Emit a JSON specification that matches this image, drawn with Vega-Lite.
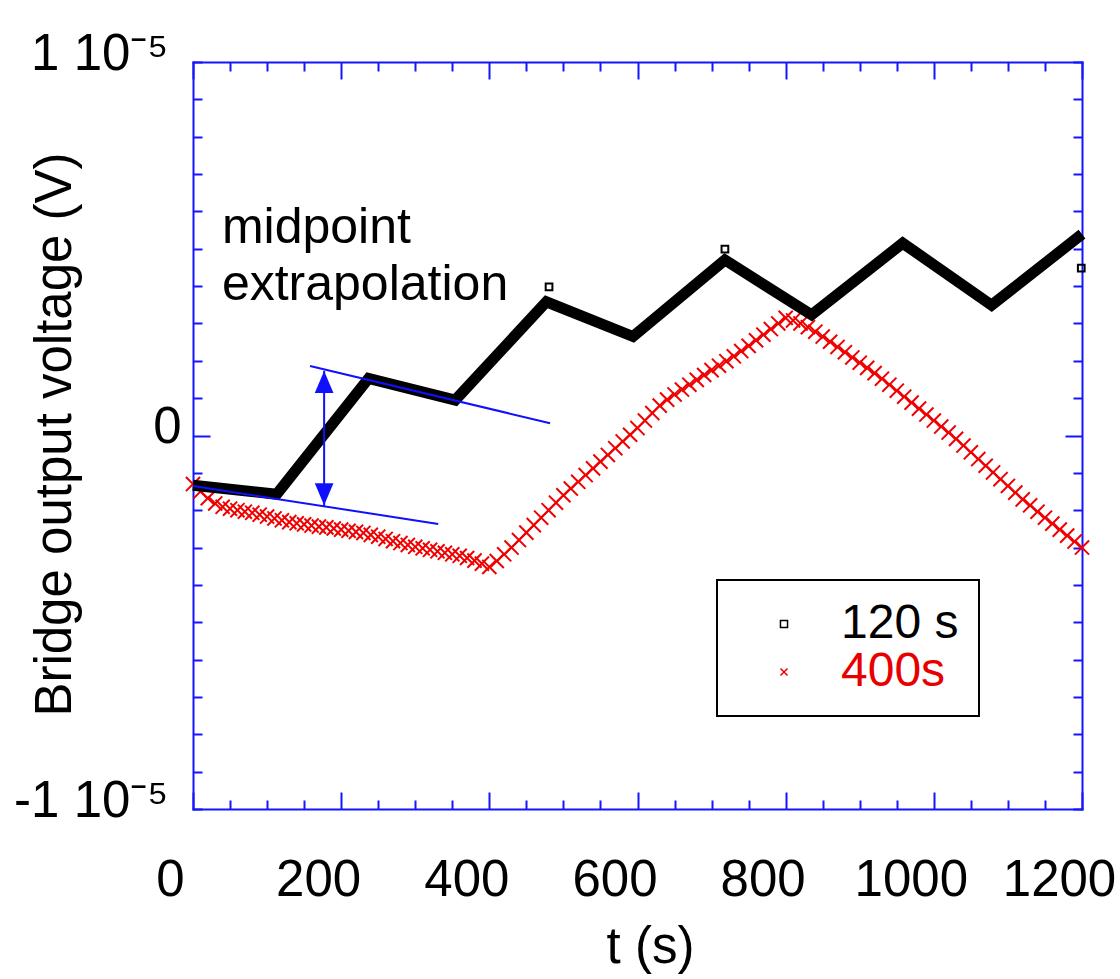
{
  "$schema": "https://vega.github.io/schema/vega-lite/v6.json",
  "width": 889,
  "height": 747,
  "autosize": "none",
  "padding": {"left": 193, "top": 62, "right": 38, "bottom": 170},
  "background": "white",
  "config": {
    "view": {"stroke": null},
    "font": "Liberation Sans",
    "axis": {
      "domainColor": "#1414ff", "domainWidth": 2, "domainCap": "square",
      "tickColor": "#1414ff", "tickWidth": 2, "grid": false,
      "labelFont": "Liberation Sans", "labelFontSize": 51, "labelColor": "#000000",
      "titleFont": "Liberation Sans", "titleFontSize": 51, "titleFontWeight": "normal", "titleColor": "#000000",
      "labelOverlap": false, "labelFlush": false, "labelBound": false
    },
    "legend": {"strokeWidth": 2, "cornerRadius": 0}
  },
  "datasets": {
    "pts": [
      {"t":0,"v":-1.30e-6,"series":"400s"},{"t":10,"v":-1.50e-6,"series":"400s"},{"t":20,"v":-1.68e-6,"series":"400s"},{"t":30,"v":-1.82e-6,"series":"400s"},{"t":40,"v":-1.91e-6,"series":"400s"},
      {"t":50,"v":-1.96e-6,"series":"400s"},{"t":60,"v":-2.00e-6,"series":"400s"},{"t":70,"v":-2.04e-6,"series":"400s"},{"t":80,"v":-2.07e-6,"series":"400s"},{"t":90,"v":-2.12e-6,"series":"400s"},
      {"t":100,"v":-2.17e-6,"series":"400s"},{"t":110,"v":-2.22e-6,"series":"400s"},{"t":120,"v":-2.27e-6,"series":"400s"},{"t":130,"v":-2.32e-6,"series":"400s"},{"t":140,"v":-2.35e-6,"series":"400s"},
      {"t":150,"v":-2.38e-6,"series":"400s"},{"t":160,"v":-2.41e-6,"series":"400s"},{"t":170,"v":-2.44e-6,"series":"400s"},{"t":180,"v":-2.46e-6,"series":"400s"},{"t":190,"v":-2.49e-6,"series":"400s"},
      {"t":200,"v":-2.52e-6,"series":"400s"},{"t":210,"v":-2.55e-6,"series":"400s"},{"t":220,"v":-2.58e-6,"series":"400s"},{"t":230,"v":-2.61e-6,"series":"400s"},{"t":240,"v":-2.66e-6,"series":"400s"},
      {"t":250,"v":-2.71e-6,"series":"400s"},{"t":260,"v":-2.77e-6,"series":"400s"},{"t":270,"v":-2.83e-6,"series":"400s"},{"t":280,"v":-2.88e-6,"series":"400s"},{"t":290,"v":-2.93e-6,"series":"400s"},
      {"t":300,"v":-2.98e-6,"series":"400s"},{"t":310,"v":-3.02e-6,"series":"400s"},{"t":320,"v":-3.06e-6,"series":"400s"},{"t":330,"v":-3.10e-6,"series":"400s"},{"t":340,"v":-3.14e-6,"series":"400s"},
      {"t":350,"v":-3.18e-6,"series":"400s"},{"t":360,"v":-3.22e-6,"series":"400s"},{"t":370,"v":-3.28e-6,"series":"400s"},{"t":380,"v":-3.35e-6,"series":"400s"},{"t":390,"v":-3.43e-6,"series":"400s"},
      {"t":400,"v":-3.52e-6,"series":"400s"},{"t":410,"v":-3.36e-6,"series":"400s"},{"t":420,"v":-3.18e-6,"series":"400s"},{"t":430,"v":-3.00e-6,"series":"400s"},{"t":440,"v":-2.80e-6,"series":"400s"},
      {"t":450,"v":-2.60e-6,"series":"400s"},{"t":460,"v":-2.40e-6,"series":"400s"},{"t":470,"v":-2.20e-6,"series":"400s"},{"t":480,"v":-2.00e-6,"series":"400s"},{"t":490,"v":-1.80e-6,"series":"400s"},
      {"t":500,"v":-1.60e-6,"series":"400s"},{"t":510,"v":-1.42e-6,"series":"400s"},{"t":520,"v":-1.24e-6,"series":"400s"},{"t":530,"v":-1.06e-6,"series":"400s"},{"t":540,"v":-0.88e-6,"series":"400s"},
      {"t":550,"v":-0.70e-6,"series":"400s"},{"t":560,"v":-0.52e-6,"series":"400s"},{"t":570,"v":-0.34e-6,"series":"400s"},{"t":580,"v":-0.16e-6,"series":"400s"},{"t":590,"v":0.02e-6,"series":"400s"},
      {"t":600,"v":0.20e-6,"series":"400s"},{"t":610,"v":0.40e-6,"series":"400s"},{"t":620,"v":0.60e-6,"series":"400s"},{"t":630,"v":0.80e-6,"series":"400s"},{"t":640,"v":0.96e-6,"series":"400s"},
      {"t":650,"v":1.10e-6,"series":"400s"},{"t":660,"v":1.23e-6,"series":"400s"},{"t":670,"v":1.36e-6,"series":"400s"},{"t":680,"v":1.49e-6,"series":"400s"},{"t":690,"v":1.62e-6,"series":"400s"},
      {"t":700,"v":1.75e-6,"series":"400s"},{"t":710,"v":1.87e-6,"series":"400s"},{"t":720,"v":1.99e-6,"series":"400s"},{"t":730,"v":2.12e-6,"series":"400s"},{"t":740,"v":2.26e-6,"series":"400s"},
      {"t":750,"v":2.40e-6,"series":"400s"},{"t":760,"v":2.55e-6,"series":"400s"},{"t":770,"v":2.70e-6,"series":"400s"},{"t":780,"v":2.85e-6,"series":"400s"},{"t":790,"v":3.00e-6,"series":"400s"},
      {"t":800,"v":3.15e-6,"series":"400s"},{"t":810,"v":3.08e-6,"series":"400s"},{"t":820,"v":3.00e-6,"series":"400s"},{"t":830,"v":2.90e-6,"series":"400s"},{"t":840,"v":2.78e-6,"series":"400s"},
      {"t":850,"v":2.65e-6,"series":"400s"},{"t":860,"v":2.51e-6,"series":"400s"},{"t":870,"v":2.37e-6,"series":"400s"},{"t":880,"v":2.23e-6,"series":"400s"},{"t":890,"v":2.09e-6,"series":"400s"},
      {"t":900,"v":1.95e-6,"series":"400s"},{"t":910,"v":1.81e-6,"series":"400s"},{"t":920,"v":1.67e-6,"series":"400s"},{"t":930,"v":1.52e-6,"series":"400s"},{"t":940,"v":1.36e-6,"series":"400s"},
      {"t":950,"v":1.20e-6,"series":"400s"},{"t":960,"v":1.04e-6,"series":"400s"},{"t":970,"v":0.88e-6,"series":"400s"},{"t":980,"v":0.72e-6,"series":"400s"},{"t":990,"v":0.56e-6,"series":"400s"},
      {"t":1000,"v":0.40e-6,"series":"400s"},{"t":1010,"v":0.24e-6,"series":"400s"},{"t":1020,"v":0.08e-6,"series":"400s"},{"t":1030,"v":-0.09e-6,"series":"400s"},{"t":1040,"v":-0.27e-6,"series":"400s"},
      {"t":1050,"v":-0.45e-6,"series":"400s"},{"t":1060,"v":-0.63e-6,"series":"400s"},{"t":1070,"v":-0.81e-6,"series":"400s"},{"t":1080,"v":-0.99e-6,"series":"400s"},{"t":1090,"v":-1.17e-6,"series":"400s"},
      {"t":1100,"v":-1.35e-6,"series":"400s"},{"t":1110,"v":-1.53e-6,"series":"400s"},{"t":1120,"v":-1.71e-6,"series":"400s"},{"t":1130,"v":-1.87e-6,"series":"400s"},{"t":1140,"v":-2.04e-6,"series":"400s"},
      {"t":1150,"v":-2.20e-6,"series":"400s"},{"t":1160,"v":-2.36e-6,"series":"400s"},{"t":1170,"v":-2.52e-6,"series":"400s"},{"t":1180,"v":-2.68e-6,"series":"400s"},{"t":1190,"v":-2.84e-6,"series":"400s"},
      {"t":1200,"v":-3.00e-6,"series":"400s"},
      {"t":480.6,"v":3.98e-6,"series":"120 s"},{"t":718,"v":4.99e-6,"series":"120 s"},{"t":1199,"v":4.48e-6,"series":"120 s"}
    ],
    "blk": [
      {"t":0,"v":-1.33e-6},{"t":113,"v":-1.57e-6},{"t":237,"v":1.53e-6},{"t":354,"v":0.95e-6},{"t":477,"v":3.58e-6},
      {"t":594,"v":2.65e-6},{"t":718,"v":4.70e-6},{"t":835,"v":3.23e-6},{"t":958,"v":5.15e-6},{"t":1078,"v":3.49e-6},{"t":1200,"v":5.39e-6}
    ],
    "fits": [
      {"t":158,"v":1.86e-6,"g":"upper"},{"t":482,"v":0.33e-6,"g":"upper"},
      {"t":0,"v":-1.35e-6,"g":"lower"},{"t":331,"v":-2.37e-6,"g":"lower"}
    ],
    "arrow": [{"t":177,"v":1.73e-6,"v2":-1.91e-6}],
    "heads": [{"t":177,"v":1.43e-6,"dir":"up"},{"t":177,"v":-1.57e-6,"dir":"down"}],
    "notes": [{"t":39,"v":5.15e-6,"text":"midpoint"},{"t":39,"v":3.63e-6,"text":"extrapolation"}]
  },
  "layer": [
    {
      "data": {"name": "pts"},
      "mark": {"type": "point", "filled": false, "strokeWidth": 2, "opacity": 1},
      "encoding": {
        "x": {"field": "t", "type": "quantitative", "scale": {"domain": [0, 1200], "nice": false, "zero": false},
          "axis": {"orient": "bottom", "values": [0,50,100,150,200,250,300,350,400,450,500,550,600,650,700,750,800,850,900,950,1000,1050,1100,1150,1200],
            "format": "d", "labelExpr": "datum.value % 200 == 0 ? datum.label : ''",
            "tickSize": {"condition": {"test": "datum.value % 200 == 0", "value": -17}, "value": -9},
            "labelPadding": 103, "labelOffset": -23, "labelBaseline": "alphabetic", "labelAlign": "center",
            "title": "t (s)", "titleX": 457, "titleY": 153, "titleAlign": "center", "titleBaseline": "alphabetic"}},
        "y": {"field": "v", "type": "quantitative", "scale": {"domain": [-1e-5, 1e-5], "nice": false, "zero": false},
          "axis": {"orient": "left",
            "values": [-1e-5,-9e-6,-8e-6,-7e-6,-6e-6,-5e-6,-4e-6,-3e-6,-2e-6,-1e-6,0,1e-6,2e-6,3e-6,4e-6,5e-6,6e-6,7e-6,8e-6,9e-6,1e-5],
            "labelExpr": "abs(datum.value) < 1e-9 ? '0' : (datum.value > 9.5e-6 ? '1 10\u207b\u2075' : (datum.value < -9.5e-6 ? '-1 10\u207b\u2075' : ''))",
            "tickSize": {"condition": {"test": "abs(datum.value) < 1e-9", "value": -17}, "value": -9},
            "labelPadding": {"condition": {"test": "abs(datum.value) < 1e-9", "value": 29}, "value": 34},
            "labelOffset": 7, "labelBaseline": "alphabetic", "labelAlign": "right",
            "title": "Bridge output voltage (V)", "titleX": -123, "titleY": 372, "titleAngle": -90, "titleAlign": "center", "titleBaseline": "alphabetic"}},
        "color": {"field": "series", "type": "nominal", "scale": {"domain": ["120 s", "400s"], "range": ["#000000", "#f00000"]},
          "legend": {"orient": "none", "legendX": 524, "legendY": 518, "title": null, "padding": 20, "strokeColor": "#000000", "fillColor": "#ffffff",
            "labelFontSize": 48, "labelFont": "Liberation Sans", "labelColor": {"expr": "datum.label == '400s' ? '#e80000' : '#000000'"},
            "symbolSize": 50, "symbolStrokeWidth": 1.5, "symbolOffset": 23, "labelOffset": 33, "rowPadding": -3, "labelBaseline": "middle"}},
        "shape": {"field": "series", "type": "nominal", "scale": {"domain": ["120 s", "400s"], "range": ["square", "M-1,-1L1,1M-1,1L1,-1"]},
          "legend": {"orient": "none", "legendX": 524, "legendY": 518, "title": null, "padding": 20, "strokeColor": "#000000", "fillColor": "#ffffff",
            "labelFontSize": 48, "labelFont": "Liberation Sans", "labelColor": {"expr": "datum.label == '400s' ? '#e80000' : '#000000'"},
            "symbolSize": 50, "symbolStrokeWidth": 1.5, "symbolOffset": 23, "labelOffset": 33, "rowPadding": -3, "labelBaseline": "middle"}},
        "size": {"condition": {"test": "datum.series == '400s'", "value": 200}, "value": 45}
      }
    },
    {
      "data": {"name": "blk"},
      "mark": {"type": "line", "color": "#000000", "strokeWidth": 11, "strokeJoin": "miter"},
      "encoding": {
        "x": {"field": "t", "type": "quantitative", "scale": {"domain": [0, 1200], "nice": false, "zero": false},
          "axis": {"orient": "top", "values": [0,50,100,150,200,250,300,350,400,450,500,550,600,650,700,750,800,850,900,950,1000,1050,1100,1150,1200],
            "labels": false, "title": null,
            "tickSize": {"condition": {"test": "datum.value % 200 == 0", "value": -17}, "value": -9}}},
        "y": {"field": "v", "type": "quantitative", "scale": {"domain": [-1e-5, 1e-5], "nice": false, "zero": false},
          "axis": {"orient": "right",
            "values": [-1e-5,-9e-6,-8e-6,-7e-6,-6e-6,-5e-6,-4e-6,-3e-6,-2e-6,-1e-6,0,1e-6,2e-6,3e-6,4e-6,5e-6,6e-6,7e-6,8e-6,9e-6,1e-5],
            "labels": false, "title": null,
            "tickSize": {"condition": {"test": "abs(datum.value) < 1e-9", "value": -17}, "value": -9}}}
      }
    },
    {
      "data": {"name": "fits"},
      "mark": {"type": "line", "color": "#1010ff", "strokeWidth": 2},
      "encoding": {
        "x": {"field": "t", "type": "quantitative", "axis": null},
        "y": {"field": "v", "type": "quantitative", "axis": null},
        "detail": {"field": "g"}
      }
    },
    {
      "data": {"name": "arrow"},
      "mark": {"type": "rule", "color": "#1010ff", "strokeWidth": 2},
      "encoding": {
        "x": {"field": "t", "type": "quantitative", "axis": null},
        "y": {"field": "v", "type": "quantitative", "axis": null},
        "y2": {"field": "v2"}
      }
    },
    {
      "data": {"name": "heads"},
      "transform": [{"filter": "datum.dir == 'up'"}],
      "mark": {"type": "point", "shape": "M0,-1L0.85,1L-0.85,1Z", "filled": true, "color": "#1010ff", "size": 484, "opacity": 1},
      "encoding": {
        "x": {"field": "t", "type": "quantitative", "axis": null},
        "y": {"field": "v", "type": "quantitative", "axis": null}
      }
    },
    {
      "data": {"name": "heads"},
      "transform": [{"filter": "datum.dir == 'down'"}],
      "mark": {"type": "point", "shape": "M0,1L0.85,-1L-0.85,-1Z", "filled": true, "color": "#1010ff", "size": 484, "opacity": 1},
      "encoding": {
        "x": {"field": "t", "type": "quantitative", "axis": null},
        "y": {"field": "v", "type": "quantitative", "axis": null}
      }
    },
    {
      "data": {"name": "notes"},
      "mark": {"type": "text", "align": "left", "baseline": "alphabetic", "font": "Liberation Sans", "fontSize": 50, "color": "#000000"},
      "encoding": {
        "x": {"field": "t", "type": "quantitative", "axis": null},
        "y": {"field": "v", "type": "quantitative", "axis": null},
        "text": {"field": "text"}
      }
    }
  ],
  "resolve": {"axis": {"x": "independent", "y": "independent"}}
}
